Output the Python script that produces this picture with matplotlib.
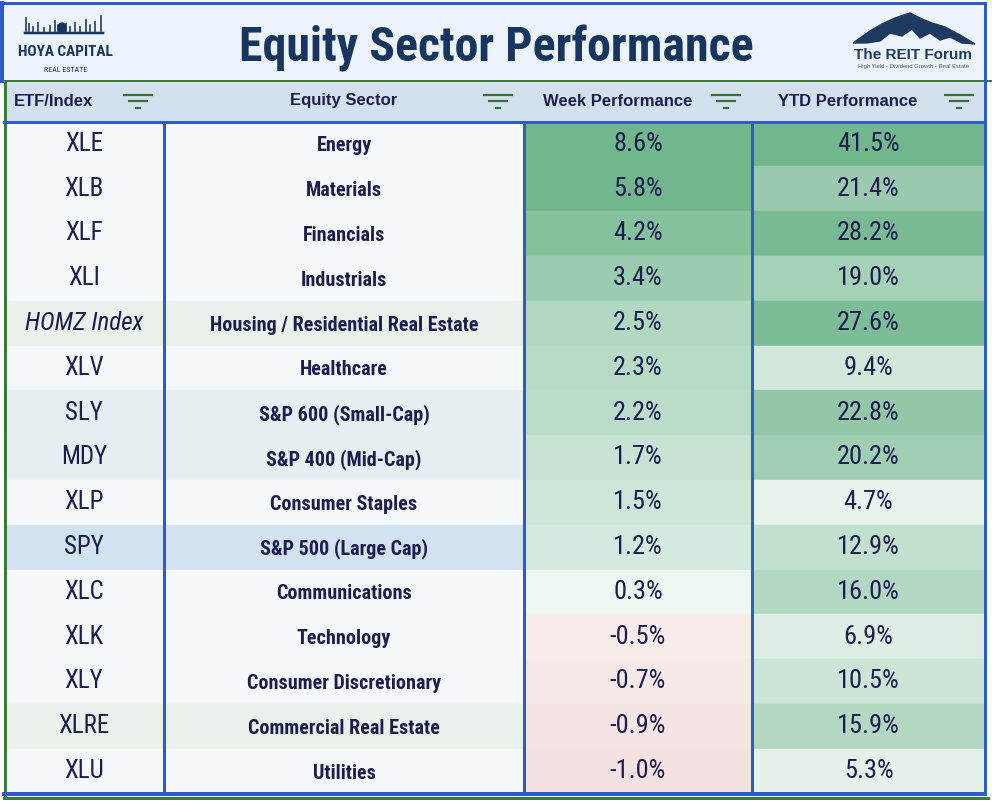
import matplotlib.pyplot as plt
from matplotlib.patches import Rectangle, Polygon, Ellipse
import numpy as np

# Table data
tickers = ['XLE', 'XLB', 'XLF', 'XLI', 'HOMZ Index', 'XLV', 'SLY', 'MDY', 'XLP',
           'SPY', 'XLC', 'XLK', 'XLY', 'XLRE', 'XLU']
sectors = ['Energy', 'Materials', 'Financials', 'Industrials',
           'Housing / Residential Real Estate', 'Healthcare', 'S&P 600 (Small-Cap)',
           'S&P 400 (Mid-Cap)', 'Consumer Staples', 'S&P 500 (Large Cap)',
           'Communications', 'Technology', 'Consumer Discretionary',
           'Commercial Real Estate', 'Utilities']
week_perf = [8.6, 5.8, 4.2, 3.4, 2.5, 2.3, 2.2, 1.7, 1.5, 1.2, 0.3, -0.5, -0.7, -0.9, -1.0]
ytd_perf = [41.5, 21.4, 28.2, 19.0, 27.6, 9.4, 22.8, 20.2, 4.7, 12.9, 16.0, 6.9, 10.5, 15.9, 5.3]
headers = ['ETF/Index', 'Equity Sector', 'Week Performance', 'YTD Performance']
title = 'Equity Sector Performance'

# styles
NAVY = '#1c1d4f'
TITLE_C = '#17365f'
BLUE = '#2d5bc9'
GREEN = '#3d7a3a'
ICON = '#3e6e38'
row_bg = {'HOMZ Index': '#e9f1ea', 'XLRE': '#e9f1ea', 'SLY': '#e8eff3',
          'MDY': '#e8eff3', 'SPY': '#d3e2f0'}
NARROW = ['Roboto Condensed', 'Liberation Sans', 'DejaVu Sans']
SANS = ['Liberation Sans', 'DejaVu Sans']


def cell_color(v, lo, hi):
    if v >= 0:
        t = np.clip((v - lo) / (hi - lo), 0, 1)
        a, b = np.array([245, 250, 247]), np.array([113, 182, 141])
    else:
        t = np.clip(-v / 1.5, 0, 1)
        a, b = np.array([253, 247, 247]), np.array([240, 216, 215])
    return tuple((a + (b - a) * t) / 255)


W, H = 992, 802
fig = plt.figure(figsize=(W / 100, H / 100), dpi=100)
ax = fig.add_axes([0, 0, 1, 1])
ax.set_xlim(0, W)
ax.set_ylim(H, 0)
ax.axis('off')

cols = [4, 164, 524, 752, 985]
title_top, title_bot = 3, 81
head_bot = 121.5
row_h = 44.8
px = 0.72  # points per pixel

# title band
ax.add_patch(Rectangle((2, title_top), cols[-1] - 2, title_bot - title_top, color='#edf3fb', zorder=0))
ax.text(496, 61, title, fontsize=34.5, fontweight='bold', color=TITLE_C,
        family=NARROW, ha='center', va='baseline')

# Hoya Capital logo
ax.plot([25, 103], [33, 33], color=TITLE_C, lw=2.5 * px)
for x, h in [(26, 15), (29, 9), (33, 6), (38, 10), (44, 5), (50, 7), (55, 12), (58, 8),
             (66, 9), (70, 6), (75, 10), (80, 6), (86, 13), (90, 8), (95, 11), (101, 17)]:
    ax.plot([x, x], [33, 33 - h], color=TITLE_C, lw=1.6 * px)
ax.add_patch(Ellipse((62, 28), 8, 10, color=TITLE_C))
ax.text(65, 56, 'HOYA CAPITAL', fontsize=11, fontweight='bold', color=TITLE_C,
        family=NARROW, ha='center', va='baseline')
ax.text(66, 72, 'REAL ESTATE', fontsize=5.8, color=TITLE_C, family=NARROW,
        ha='center', va='baseline')

# REIT Forum logo
mountain = [(853, 43), (870, 31), (882, 24), (895, 18), (910, 13), (922, 19),
            (932, 23), (945, 27), (960, 35), (975, 44), (962, 43), (950, 37),
            (940, 40), (930, 33), (920, 38), (912, 29), (902, 36), (890, 33),
            (880, 41), (866, 43)]
ax.add_patch(Polygon(mountain, closed=True, color='#1f3a60'))
ax.text(913, 59, 'The REIT Forum', fontsize=11, fontweight='bold', color='#1f3a60',
        family=SANS, ha='center', va='baseline')
ax.text(913, 68, 'High Yield - Dividend Growth - Real Estate', fontsize=4.2,
        color='#4b5672', family=SANS, ha='center', va='baseline')

# header row
ax.add_patch(Rectangle((cols[0], title_bot), cols[-1] - cols[0], head_bot - title_bot,
                       color='#d3e1ef', zorder=0))
hy = 101
for i, label in enumerate(headers):
    left, right = cols[i], cols[i + 1]
    icx = right - 26
    if i == 0:
        ax.text(left + 10, hy, label, fontsize=12, fontweight='bold', color=NAVY,
                family=SANS, ha='left', va='center')
    elif i == 1:
        ax.text((left + right) / 2, hy, label, fontsize=12, fontweight='bold', color=NAVY,
                family=SANS, ha='center', va='center')
    else:
        ax.text((left + icx - 15) / 2, hy, label, fontsize=12, fontweight='bold', color=NAVY,
                family=SANS, ha='center', va='center')
    ax.plot([icx - 15, icx + 15], [95, 95], color=ICON, lw=2.2 * px, solid_capstyle='butt')
    ax.plot([icx - 10, icx + 10], [101, 101], color=ICON, lw=2.2 * px, solid_capstyle='butt')
    ax.plot([icx - 3, icx + 3], [108, 108], color=ICON, lw=2.2 * px, solid_capstyle='butt')

# body rows
for r in range(len(tickers)):
    y0 = head_bot + r * row_h
    yc = y0 + row_h / 2
    bg = row_bg.get(tickers[r], '#f5f9fc')
    ax.add_patch(Rectangle((cols[0], y0), cols[2] - cols[0], row_h, color=bg, zorder=0))
    ax.add_patch(Rectangle((cols[2], y0), cols[3] - cols[2], row_h,
                           color=cell_color(week_perf[r], 0, 5), zorder=0))
    ax.add_patch(Rectangle((cols[3], y0), cols[4] - cols[3], row_h,
                           color=cell_color(ytd_perf[r], 2, 30), zorder=0))
    ax.text((cols[0] + cols[1]) / 2, yc, tickers[r], fontsize=18, color=NAVY, family=NARROW,
            style='italic' if 'Index' in tickers[r] else 'normal', ha='center', va='center')
    ax.text((cols[1] + cols[2]) / 2, yc + 2, sectors[r], fontsize=14.5, fontweight='bold',
            color=NAVY, family=NARROW, ha='center', va='center')
    ax.text((cols[2] + cols[3]) / 2, yc, f'{week_perf[r]:.1f}%', fontsize=19, color=NAVY,
            family=NARROW, ha='center', va='center')
    ax.text((cols[3] + cols[4]) / 2, yc, f'{ytd_perf[r]:.1f}%', fontsize=19, color=NAVY,
            family=NARROW, ha='center', va='center')

bottom = head_bot + len(tickers) * row_h

# grid and borders
ax.plot([2, 985], [2.5, 2.5], color=BLUE, lw=3 * px)
ax.plot([2, 2], [2.5, title_bot], color=BLUE, lw=4 * px)
ax.plot([4, W], [title_bot, title_bot], color=GREEN, lw=2 * px)
ax.plot([4.5, 4.5], [title_bot, bottom + 4], color=GREEN, lw=3 * px)
ax.plot([4, 988], [bottom + 4, bottom + 4], color=GREEN, lw=3 * px)
ax.plot([cols[0], cols[-1]], [head_bot, head_bot], color=BLUE, lw=3 * px)
ax.plot([cols[0], cols[-1]], [bottom, bottom], color=BLUE, lw=4 * px)
for x in cols[1:-1]:
    ax.plot([x, x], [head_bot, bottom], color=BLUE, lw=3 * px)
ax.plot([cols[-1], cols[-1]], [2.5, bottom], color=BLUE, lw=3 * px)

fig.savefig('out.png', dpi=100)
